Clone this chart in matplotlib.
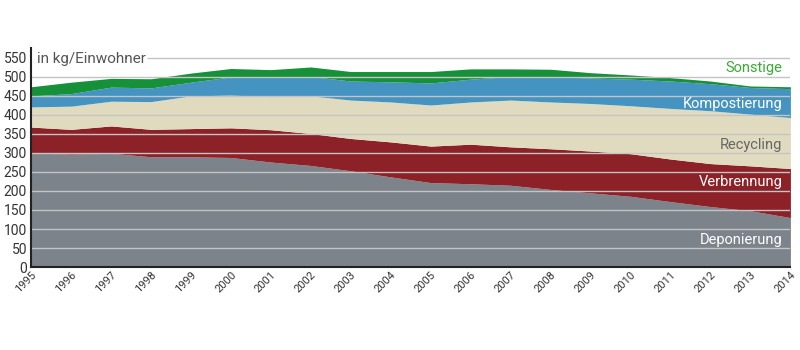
import numpy as np
import matplotlib.pyplot as plt

plt.rcParams['font.family'] = ['Roboto', 'DejaVu Sans']

years = list(range(1995, 2015))
# cumulative tops (kg per inhabitant)
top_deponierung = [300, 297, 299, 290, 290, 288, 276, 267, 253, 237, 222, 219, 215, 204, 195, 186, 172, 159, 148, 130]
top_verbrennung = [368, 362, 371, 362, 364, 366, 361, 351, 338, 329, 318, 323, 316, 311, 305, 298, 284, 272, 266, 259]
top_recycling = [421, 423, 436, 435, 450, 452, 448, 450, 439, 434, 426, 434, 439, 434, 430, 424, 417, 411, 402, 393]
top_kompost = [450, 456, 473, 471, 486, 500, 499, 501, 489, 487, 484, 494, 501, 501, 497, 494, 489, 482, 472, 469]
top_sonstige = [474, 486, 496, 495, 510, 522, 519, 526, 514, 514, 514, 521, 521, 520, 511, 505, 498, 489, 476, 474]

yticks = [0, 50, 100, 150, 200, 250, 300, 350, 400, 450, 500, 550]

fig = plt.figure(figsize=(8, 3.5), dpi=100)
ax = fig.add_axes([0.039, 0.237, 0.949, 0.626])

x = np.array(years)
zero = np.zeros(len(years))
layers = [
    (zero, top_deponierung, '#7d838a'),
    (top_deponierung, top_verbrennung, '#8c2127'),
    (top_verbrennung, top_recycling, '#e0dbbf'),
    (top_recycling, top_kompost, '#4593c0'),
    (top_kompost, top_sonstige, '#17903a'),
]
for lo, hi, col in layers:
    ax.fill_between(x, lo, hi, color=col, linewidth=0, zorder=1)

# gridlines on top of the areas
ax.hlines(yticks[1:-1], 1995, 2014, color='#c4c4c4', linewidth=1, zorder=2)
ax.hlines(yticks[-1], 1997.9, 2014, color='#c4c4c4', linewidth=1, zorder=2)

ax.set_xlim(1995, 2014)
ax.set_ylim(0, 576)
ax.set_yticks(yticks)
ax.set_yticklabels([str(v) for v in yticks], fontsize=10, color='#333333')
ax.set_xticks(years)
ax.set_xticklabels([str(y) for y in years], rotation=45, ha='right', va='top',
                   rotation_mode='anchor', fontsize=8, color='#333333')
ax.tick_params(axis='y', length=0, pad=3)
ax.tick_params(axis='x', length=0, pad=2)

for s in ['top', 'right']:
    ax.spines[s].set_visible(False)
ax.spines['left'].set_color('#222222')
ax.spines['bottom'].set_color('#222222')
ax.spines['left'].set_linewidth(1.5)
ax.spines['bottom'].set_linewidth(1.5)
ax.spines['left'].set_zorder(3)
ax.spines['bottom'].set_zorder(3)

ax.text(1995.15, 548, 'in kg/Einwohner', fontsize=11, color='#555555', va='center', ha='left')

labels = [
    ('Sonstige', 522, '#3aaa35'),
    ('Kompostierung', 428, 'white'),
    ('Recycling', 322, '#666666'),
    ('Verbrennung', 223, 'white'),
    ('Deponierung', 71, 'white'),
]
for txt, yv, col in labels:
    ax.text(2013.8, yv, txt, fontsize=10.5, color=col, ha='right', va='center', zorder=4)

fig.savefig('out.png', dpi=100)
